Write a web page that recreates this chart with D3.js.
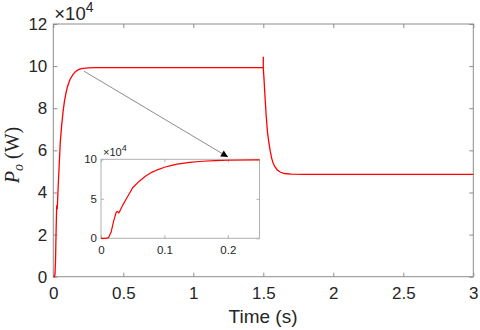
<!DOCTYPE html>
<html>
<head>
<meta charset="utf-8">
<script src="https://cdn.jsdelivr.net/npm/d3@7"></script>
<style>
  body { margin: 0; background: #fff; }
  svg { display: block; }
  .tick text { font-family: "Liberation Sans", Arial, sans-serif; fill: #262626; }
  .domain { display: none; }
</style>
</head>
<body>
<div id="chart"></div>
<script>
// time (s) and output power (x10^4 W)
let time = [0, 0.004, 0.008, 0.012, 0.016, 0.02, 0.024, 0.026, 0.028, 0.03, 0.035, 0.04, 0.045,
  0.05, 0.06, 0.07, 0.08, 0.09, 0.1, 0.11, 0.12, 0.14, 0.16, 0.18, 0.2, 0.25, 0.3,
  1.5, 1.5, 1.5, 1.505, 1.51, 1.52, 1.53, 1.54, 1.55, 1.56, 1.57, 1.58, 1.6, 1.62, 1.65,
  1.7, 1.8, 3];
let power = [0, 0, 0, 0.1, 0.8, 2.2, 3.3, 3.4, 3.2, 3.5, 4.3, 5.0, 5.7,
  6.4, 7.2, 7.85, 8.35, 8.7, 9.0, 9.2, 9.38, 9.6, 9.75, 9.83, 9.88, 9.92, 9.93,
  9.93, 10.45, 9.9, 9.4, 8.8, 7.7, 6.85, 6.35, 5.95, 5.62, 5.4, 5.25, 5.07, 4.97, 4.9,
  4.87, 4.86, 4.86];

let xTicks = [0, 0.5, 1, 1.5, 2, 2.5, 3];
let yTicks = [0, 2, 4, 6, 8, 10, 12];
let insetXTicks = [0, 0.1, 0.2];
let insetYTicks = [0, 5, 10];

let width = 480;
let height = 330;
let axisColor = '#8c8c8c';
let lineColor = '#ff0000';

let data = time.map((t, i) => ({ t: t, p: power[i] }));

let svg = d3.select('#chart').append('svg')
  .attr('width', width)
  .attr('height', height);

// main axes
let m = { left: 53.3, right: 473.3, top: 24, bottom: 276.7 };
let x = d3.scaleLinear().domain([0, 3]).range([m.left, m.right]);
let y = d3.scaleLinear().domain([0, 12]).range([m.bottom, m.top]);

function drawAxes(g, xs, ys, xt, yt, fontSize, tickLen, padX, padY, color) {
  let [x0, x1] = xs.range();
  let [y0, y1] = ys.range();
  g.append('g')
    .attr('transform', `translate(0,${y0})`)
    .call(d3.axisBottom(xs).tickValues(xt).tickFormat(d3.format('~g'))
      .tickSizeInner(-tickLen).tickSizeOuter(0).tickPadding(padX))
    .call(a => a.selectAll('text').attr('font-size', fontSize));
  g.append('g')
    .attr('transform', `translate(${x0},0)`)
    .call(d3.axisLeft(ys).tickValues(yt).tickFormat(d3.format('~g'))
      .tickSizeInner(-tickLen).tickSizeOuter(0).tickPadding(padY))
    .call(a => a.selectAll('text').attr('font-size', fontSize));
  // mirrored ticks on top and right
  g.append('g')
    .attr('transform', `translate(0,${y1})`)
    .call(d3.axisTop(xs).tickValues(xt).tickFormat('').tickSizeInner(-tickLen).tickSizeOuter(0));
  g.append('g')
    .attr('transform', `translate(${x1},0)`)
    .call(d3.axisRight(ys).tickValues(yt).tickFormat('').tickSizeInner(-tickLen).tickSizeOuter(0));
  g.selectAll('.tick line').attr('stroke', color);
  g.append('rect')
    .attr('x', x0).attr('y', y1)
    .attr('width', x1 - x0).attr('height', y0 - y1)
    .attr('fill', 'none').attr('stroke', color).attr('stroke-width', 1);
}

let mainG = svg.append('g');
drawAxes(mainG, x, y, xTicks, yTicks, 17, 4, 10, 6, axisColor);

let line = d3.line().x(d => x(d.t)).y(d => y(d.p));
mainG.append('path')
  .datum(data)
  .attr('d', line)
  .attr('fill', 'none')
  .attr('stroke', lineColor)
  .attr('stroke-width', 1.3);

// exponent label
let exp = svg.append('text')
  .attr('x', m.left + 1)
  .attr('y', 20)
  .attr('font-family', 'Liberation Sans, Arial, sans-serif')
  .attr('font-size', 18.5)
  .attr('fill', '#262626');
exp.append('tspan').text('\u00d710');
exp.append('tspan').attr('dy', -8).attr('font-size', 14).text('4');

// axis labels
svg.append('text')
  .attr('x', 263)
  .attr('y', 323)
  .attr('text-anchor', 'middle')
  .attr('font-family', 'Liberation Sans, Arial, sans-serif')
  .attr('font-size', 19)
  .attr('fill', '#262626')
  .text('Time (s)');

let yl = svg.append('text')
  .attr('transform', `translate(19,155) rotate(-90)`)
  .attr('text-anchor', 'middle')
  .attr('font-family', 'Liberation Serif, Times New Roman, serif')
  .attr('font-size', 20)
  .attr('fill', '#262626');
yl.append('tspan').attr('font-style', 'italic').text('P');
yl.append('tspan').attr('font-style', 'italic').attr('font-size', 14).attr('dy', 4).text('o');
yl.append('tspan').attr('dy', -4).text(' (W)');

// arrow
svg.append('defs').append('marker')
  .attr('id', 'head')
  .attr('viewBox', '0 0 10 10')
  .attr('refX', 10).attr('refY', 5)
  .attr('markerWidth', 9).attr('markerHeight', 7)
  .attr('markerUnits', 'userSpaceOnUse')
  .attr('orient', 'auto')
  .append('path')
  .attr('d', 'M0,0 L10,5 L0,10 z')
  .attr('fill', '#000');

svg.append('line')
  .attr('x1', x(0.22)).attr('y1', y(9.9) + 3)
  .attr('x2', 228).attr('y2', 157)
  .attr('stroke', '#7f7f7f')
  .attr('stroke-width', 0.9)
  .attr('marker-end', 'url(#head)');

// inset
let ix = d3.scaleLinear().domain([0, 0.25]).range([101, 259.5]);
let iy = d3.scaleLinear().domain([0, 10]).range([238.3, 159.3]);

let insetG = svg.append('g');
insetG.append('rect')
  .attr('x', 101).attr('y', 159.3)
  .attr('width', 158.5).attr('height', 79)
  .attr('fill', '#fff');
drawAxes(insetG, ix, iy, insetXTicks, insetYTicks, 11.5, 3, 8, 4, '#b0b0b0');

svg.append('clipPath').attr('id', 'insetClip')
  .append('rect')
  .attr('x', 101).attr('y', 150)
  .attr('width', 158.5).attr('height', 90);

let insetLine = d3.line().x(d => ix(d.t)).y(d => iy(d.p));
insetG.append('path')
  .datum(data)
  .attr('d', insetLine)
  .attr('clip-path', 'url(#insetClip)')
  .attr('fill', 'none')
  .attr('stroke', lineColor)
  .attr('stroke-width', 1.2);

let iexp = svg.append('text')
  .attr('x', 103)
  .attr('y', 156)
  .attr('font-family', 'Liberation Sans, Arial, sans-serif')
  .attr('font-size', 11)
  .attr('fill', '#262626');
iexp.append('tspan').text('\u00d710');
iexp.append('tspan').attr('dy', -5).attr('font-size', 9).text('4');
</script>
</body>
</html>
